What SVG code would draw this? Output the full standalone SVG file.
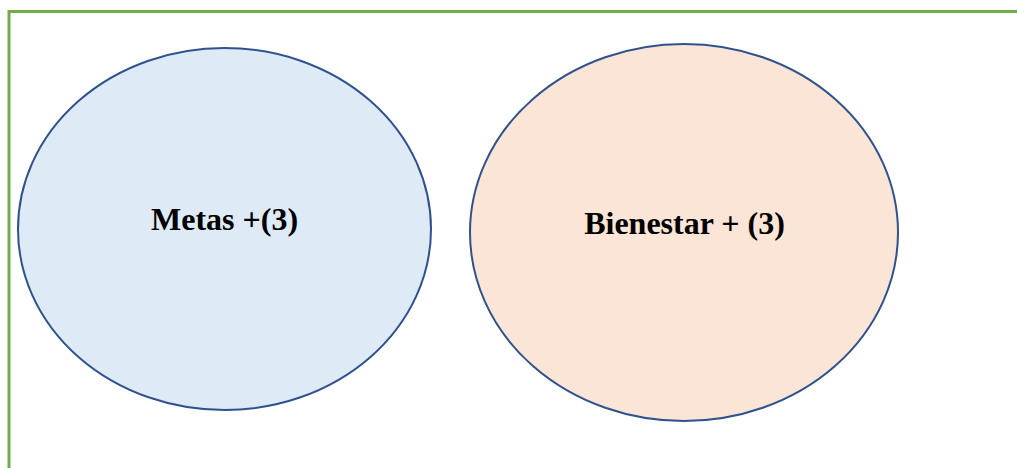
<svg xmlns="http://www.w3.org/2000/svg" width="1017" height="468" viewBox="0 0 1017 468">
  <style>
    .frame { fill: #ffffff; stroke: #70AD47; stroke-width: 3; }
    .oval { stroke: #2F528F; stroke-width: 2; }
    .label { font-family: "Liberation Serif", "Times New Roman", serif; font-weight: bold; font-size: 32px; fill: #000000; text-anchor: middle; }
  </style>
  <rect width="1017" height="468" fill="#ffffff"/>
  <rect class="frame" x="9" y="11.5" width="1020" height="470"/>
  <g id="metas">
    <ellipse class="oval" cx="224.5" cy="229" rx="206.5" ry="181" fill="#DEEBF7"/>
    <text class="label" x="224.5" y="230">Metas +(3)</text>
  </g>
  <g id="bienestar">
    <ellipse class="oval" cx="684" cy="232.5" rx="214" ry="188.5" fill="#FBE5D6"/>
    <text class="label" x="684.5" y="234">Bienestar + (3)</text>
  </g>
  <g id="connectors"></g>
</svg>
